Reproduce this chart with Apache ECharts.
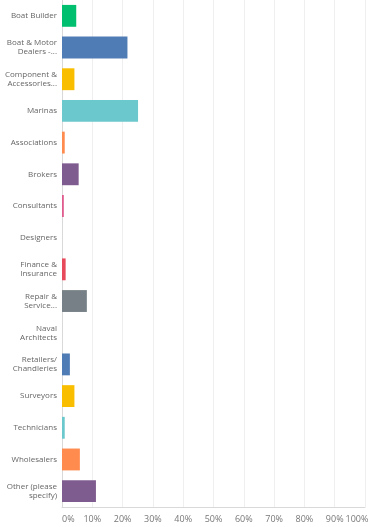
<!DOCTYPE html>
<html>
<head>
<meta charset="utf-8">
<script src="https://cdn.jsdelivr.net/npm/echarts@6/dist/echarts.min.js"></script>
<style>
  html, body { margin: 0; padding: 0; background: #fff; }
</style>
</head>
<body>
<div id="container-chart" style="width: 378px; height: 527px"></div>
<script>
const categories = [
  'Boat Builder', 'Boat & Motor\nDealers -...', 'Component &\nAccessories...', 'Marinas',
  'Associations', 'Brokers', 'Consultants', 'Designers', 'Finance &\nInsurance',
  'Repair &\nService...', 'Naval\nArchitects', 'Retailers/\nChandleries', 'Surveyors',
  'Technicians', 'Wholesalers', 'Other (please\nspecify)'
];
const values = [4.7, 21.6, 4.1, 25.1, 0.9, 5.5, 0.6, 0, 1.2, 8.2, 0, 2.6, 4.1, 0.9, 5.9, 11.2];
const barColors = [
  '#00bf6f', '#507cb6', '#f9be00', '#6bc8cd', '#ff8b4f', '#7f5c8f', '#e05c8f', '#6bc8cd',
  '#e74a5b', '#768086', '#507cb6', '#507cb6', '#f9be00', '#6bc8cd', '#ff8b4f', '#7f5c8f'
];
const xTicks = [0, 10, 20, 30, 40, 50, 60, 70, 80, 90, 100];

let chartDom = document.getElementById('container-chart');
let myChart = echarts.init(chartDom);
let option = {
  animation: false,
  grid: {
    top: -3,
    left: 62,
    right: 13,
    bottom: 20,
    containLabel: false,
  },
  xAxis: {
    type: 'value',
    min: xTicks[0],
    max: xTicks[xTicks.length - 1],
    interval: 10,
    axisLine: { show: true, lineStyle: { color: '#d9d9d9' } },
    axisTick: { show: false },
    splitLine: { show: true, lineStyle: { color: '#efefef' } },
    axisLabel: {
      // pad the last label on the right so it sits just left of the edge
      formatter: (v) => (v === 100 ? '{r|' + v + '%}' : v + '%'),
      rich: { r: { padding: [0, 16, 0, 0], color: '#777', fontSize: 9, fontFamily: 'Open Sans' } },
      color: '#777',
      fontSize: 9,
      fontFamily: 'Open Sans',
      margin: 8,
      showMinLabel: true,
      showMaxLabel: true,
      hideOverlap: false,
      alignMinLabel: 'left',
      alignMaxLabel: 'center',
    },
  },
  yAxis: {
    type: 'category',
    inverse: true,
    data: categories,
    axisLine: { show: true, lineStyle: { color: '#d9d9d9' } },
    axisTick: { show: false },
    axisLabel: {
      color: '#666',
      fontSize: 8,
      fontFamily: 'Open Sans',
      lineHeight: 9,
      margin: 5,
    },
  },
  series: [
    {
      type: 'bar',
      barCategoryGap: '31%',
      data: values.map((v, i) => ({
        value: v,
        itemStyle: { color: barColors[i] },
      })),
    },
  ],
};

option && myChart.setOption(option);
</script>
</body>
</html>
